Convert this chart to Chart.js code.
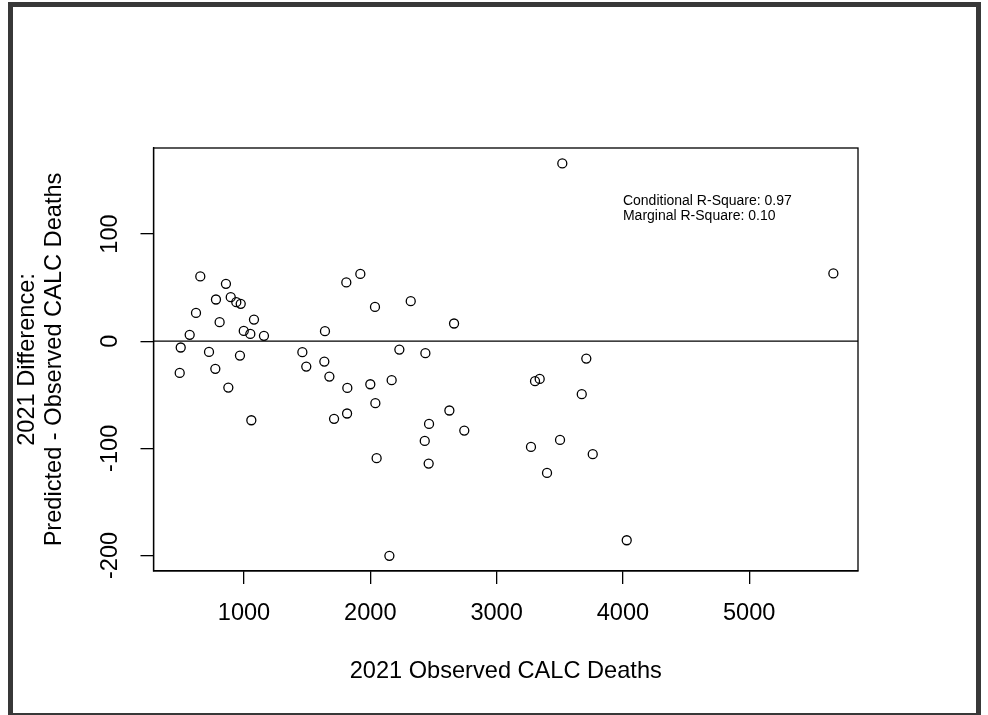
<!DOCTYPE html>
<html>
<head>
<meta charset="utf-8">
<title>2021 Difference vs Observed CALC Deaths</title>
<script src="https://cdn.jsdelivr.net/npm/chart.js@4.4.1/dist/chart.umd.min.js"></script>
<style>
  html, body { margin: 0; padding: 0; background: #fff; overflow: hidden; }
  #frame { position: absolute; left: 8px; top: 2px; width: 973px; height: 716px; box-sizing: border-box; border: 5px solid #383838; }
  #wrap { position: absolute; left: 0; top: 0; width: 988px; height: 715px; }
</style>
</head>
<body>
<div id="frame"></div>
<div id="wrap"><canvas id="chart" width="988" height="715"></canvas></div>
<script>
// observed deaths (x) and predicted - observed (y)
const observedDeaths = [
  654, 857, 778, 895, 939, 974, 620, 807, 1079, 570, 998, 1050, 1158,
  1810, 1921, 2037, 2320, 2663, 1641,
  499, 491, 723, 773, 968, 876, 1058, 1462, 1493, 1636, 1676, 1818, 1816,
  1713, 2000, 2040, 2169, 2230, 2050, 2151, 2436, 2626, 2465, 2431, 2462,
  3710, 3304, 3341, 3674, 2744, 3272, 3502, 3761, 3399, 4030,
  3520, 5666
];
const predMinusObs = [
  60.4, 53.5, 38.9, 41.1, 36.4, 34.9, 26.4, 17.7, 20.2, 5.9, 9.6, 6.8, 5.0,
  54.8, 62.8, 32.0, 37.3, 16.5, 9.3,
  -5.9, -29.6, -10.0, -25.8, -13.4, -43.3, -73.8, -10.3, -23.7, -19.0, -33.0, -43.6, -67.5,
  -72.5, -40.2, -57.9, -36.4, -7.8, -109.2, -200.3, -11.2, -64.7, -77.2, -93.1, -114.2,
  -16.2, -37.3, -35.2, -49.5, -83.4, -98.7, -92.2, -105.5, -123.0, -185.8,
  165.9, 63.2
];

const xLimits = [283.5, 5861];
const yLimits = [-214.5, 180.3];
const xTickValues = [1000, 2000, 3000, 4000, 5000];
const yTickValues = [-200, -100, 0, 100];

const noteLines = ['Conditional R-Square: 0.97', 'Marginal R-Square: 0.10'];
const noteX = 4000;
const noteY = [131, 116.5];

const fam = '"Liberation Sans", Arial, sans-serif';
const axisFont = 23.6;

const points = observedDeaths.map((v, i) => ({ x: v, y: predMinusObs[i] }));

// box around plot region + the R-square text
const boxAndNote = {
  id: 'boxAndNote',
  afterDatasetsDraw(chart) {
    const { ctx, chartArea: a, scales } = chart;
    ctx.save();
    ctx.strokeStyle = '#000';
    ctx.lineWidth = 1.3;
    ctx.strokeRect(a.left, a.top, a.right - a.left, a.bottom - a.top);
    ctx.font = '14px ' + fam;
    ctx.fillStyle = '#000';
    ctx.textAlign = 'left';
    ctx.textBaseline = 'middle';
    noteLines.forEach((t, i) => {
      ctx.fillText(t, scales.x.getPixelForValue(noteX), scales.y.getPixelForValue(noteY[i]));
    });
    ctx.restore();
  }
};

new Chart(document.getElementById('chart'), {
  type: 'scatter',
  data: {
    datasets: [{
      data: points,
      pointStyle: 'circle',
      pointRadius: 4.5,
      pointHoverRadius: 4.5,
      borderColor: '#000',
      borderWidth: 1.3,
      backgroundColor: 'rgba(0,0,0,0)'
    }, {
      // abline(h = 0)
      data: [{ x: xLimits[0], y: 0 }, { x: xLimits[1], y: 0 }],
      showLine: true,
      pointRadius: 0,
      borderColor: '#000',
      borderWidth: 1.3
    }]
  },
  options: {
    responsive: false,
    animation: false,
    layout: { padding: { left: 0, top: 148, right: 130, bottom: 0 } },
    plugins: { legend: { display: false }, tooltip: { enabled: false } },
    scales: {
      x: {
        type: 'linear',
        position: 'bottom',
        min: xLimits[0],
        max: xLimits[1],
        afterBuildTicks: s => { s.ticks = xTickValues.map(v => ({ value: v })); },
        afterFit: s => { s.height = 144; },
        ticks: {
          autoSkip: false, maxRotation: 0,
          padding: 15.8, color: '#000', font: { size: axisFont, family: fam },
          callback: v => String(v)
        },
        grid: { drawOnChartArea: false, tickLength: 13, color: '#000', lineWidth: 1.3 },
        border: { display: true, color: '#000', width: 1.3 },
        title: {
          display: true, text: '2021 Observed CALC Deaths', color: '#000',
          font: { size: axisFont, family: fam }, padding: { top: 0, bottom: 29 }
        }
      },
      y: {
        type: 'linear',
        position: 'left',
        min: yLimits[0],
        max: yLimits[1],
        afterBuildTicks: s => { s.ticks = yTickValues.map(v => ({ value: v })); },
        afterFit: s => { s.width = 153.5; },
        ticks: {
          autoSkip: false,
          minRotation: 90, maxRotation: 90, crossAlign: 'center',
          padding: 6.9, color: '#000', font: { size: axisFont, family: fam },
          callback: v => String(v)
        },
        grid: { drawOnChartArea: false, tickLength: 13, color: '#000', lineWidth: 1.3 },
        border: { display: true, color: '#000', width: 1.3 },
        title: {
          display: true, text: ['2021 Difference:', 'Predicted - Observed CALC Deaths'], color: '#000',
          font: { size: axisFont, family: fam, lineHeight: '27px' }, padding: { top: 14, bottom: 0 }
        }
      }
    }
  },
  plugins: [boxAndNote]
});
</script>
</body>
</html>
